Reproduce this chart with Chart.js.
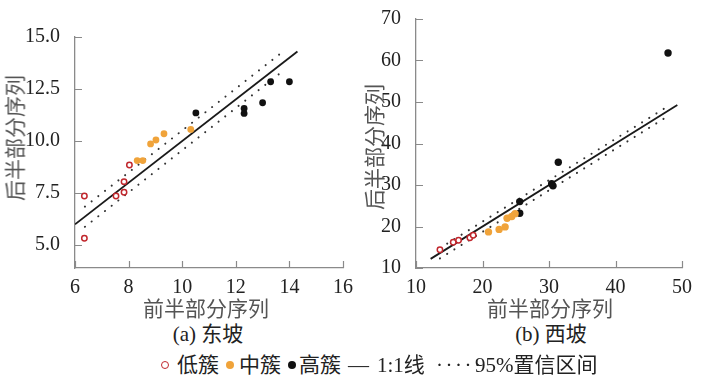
<!DOCTYPE html>
<html>
<head>
<meta charset="utf-8">
<script src="https://cdn.jsdelivr.net/npm/chart.js@4"></script>
<style>
  body { margin: 0; background: #fff; }
  #wrap { position: relative; width: 711px; height: 384px; overflow: hidden;
          font-family: "Liberation Serif", "Noto Sans CJK SC", serif; }
  canvas { position: absolute; top: 0; }
  .txt { position: absolute; white-space: nowrap; font-size: 21px; line-height: 1; }
  .ytitle { color: #555; transform: translate(-50%, -50%) rotate(-90deg); }
  .xtitle { color: #555; transform: translate(-50%, -50%); }
  .sub { color: #222; transform: translate(-50%, -50%); }
  .leg { color: #222; top: 365px; transform: translateY(-50%); }
  .mk { position: absolute; top: 361px; border-radius: 50%; box-sizing: border-box; }
</style>
</head>
<body>
<div id="wrap">
  <canvas id="east" width="355" height="300" style="left:0"></canvas>
  <canvas id="west" width="356" height="300" style="left:355px"></canvas>

  <div class="txt ytitle" style="left:16px; top:138px">后半部分序列</div>
  <div class="txt ytitle" style="left:375px; top:147px">后半部分序列</div>
  <div class="txt xtitle" style="left:206px; top:309px">前半部分序列</div>
  <div class="txt xtitle" style="left:550px; top:309px">前半部分序列</div>
  <div class="txt sub" style="left:208px; top:334px">(a) 东坡</div>
  <div class="txt sub" style="left:551px; top:334px">(b) 西坡</div>

  <span class="mk" style="left:161px;width:8px;height:8px;border:1.6px solid #c1272d"></span>
  <div class="txt leg" style="left:177px">低簇</div>
  <span class="mk" style="left:226px;width:8px;height:8px;background:#f0a33a"></span>
  <div class="txt leg" style="left:239px">中簇</div>
  <span class="mk" style="left:288px;width:8px;height:8px;background:#111"></span>
  <div class="txt leg" style="left:299px">高簇</div>
  <div class="txt leg" style="left:348px">—</div>
  <div class="txt leg" style="left:377px">1:1线</div>
  <div class="txt leg" style="left:436px; letter-spacing:2.5px">·····</div>
  <div class="txt leg" style="left:475px">95%置信区间</div>
</div>

<script>
// 东坡 (a)
let eastLowX = [6.35, 6.35, 7.53, 7.83, 7.83, 8.03];
let eastLowY = [7.36, 5.33, 7.36, 7.54, 8.05, 8.85];
let eastMidX = [8.32, 8.53, 8.82, 9.02, 9.32, 10.32];
let eastMidY = [9.06, 9.06, 9.86, 10.05, 10.35, 10.56];
let eastHighX = [10.51, 12.31, 12.31, 13.0, 13.3, 14.0];
let eastHighY = [11.35, 11.57, 11.33, 11.84, 12.85, 12.85];
let eastLineX = [6, 14.3];
let eastCiX = [6.37, 13.84];
let eastCiUp = [6.85, 14.38];
let eastCiLow = [5.88, 13.45];
let eastXTicks = [6, 8, 10, 12, 14, 16];
let eastYTicks = [5, 7.5, 10, 12.5, 15];

// 西坡 (b)
let westLowX = [13.6, 15.6, 16.4, 18.1, 18.6];
let westLowY = [14.4, 16.2, 16.7, 17.3, 17.9];
let westMidX = [20.9, 22.5, 23.4, 23.7, 24.4, 24.9];
let westMidY = [18.7, 19.3, 19.9, 22.0, 22.4, 23.1];
let westHighX = [25.6, 25.6, 30.4, 30.6, 31.4, 47.9];
let westHighY = [26.0, 23.2, 30.3, 29.8, 35.5, 61.8];
let westLineX = [12.2, 49.3];
let westCiX = [13.6, 47.4];
let westCiUp = [14.8, 48.5];
let westCiLow = [12.3, 46.1];
let westXTicks = [10, 20, 30, 40, 50];
let westYTicks = [10, 20, 30, 40, 50, 60, 70];

let axisColor = '#8a8a8a';
let red = '#c1272d', orange = '#f0a33a', black = '#111';

let pts = (xs, ys) => xs.map((x, i) => ({ x: x, y: ys[i] }));

// ticks paa indersiden af akserne
let innerTicks = {
  id: 'innerTicks',
  afterDraw(chart) {
    let ctx = chart.ctx, a = chart.chartArea;
    let sx = chart.scales.x, sy = chart.scales.y;
    ctx.save();
    ctx.strokeStyle = axisColor;
    ctx.lineWidth = 1.2;
    ctx.beginPath();
    sx.ticks.forEach(t => {
      let p = Math.round(sx.getPixelForValue(t.value)) + 0.5;
      ctx.moveTo(p, a.bottom); ctx.lineTo(p, a.bottom - 7);
    });
    sy.ticks.forEach(t => {
      let p = Math.round(sy.getPixelForValue(t.value)) + 0.5;
      ctx.moveTo(a.left, p); ctx.lineTo(a.left + 7, p);
    });
    ctx.stroke();
    ctx.restore();
  }
};

function makeChart(el, d) {
  let tickFont = { family: 'Liberation Serif', size: 20 };
  return new Chart(el, {
    type: 'scatter',
    data: {
      datasets: [
        { data: pts(d.lowX, d.lowY), pointRadius: 2.7, pointBorderWidth: 1.5,
          pointBorderColor: red, pointBackgroundColor: '#fff', order: 0 },
        { data: pts(d.midX, d.midY), pointRadius: d.r, pointBorderWidth: 0,
          pointBackgroundColor: orange, order: 0 },
        { data: pts(d.highX, d.highY), pointRadius: d.r, pointBorderWidth: 0,
          pointBackgroundColor: black, order: 0 },
        { data: pts(d.lineX, d.lineX), showLine: true, pointRadius: 0,
          borderColor: '#1a1a1a', borderWidth: 1.8, order: 1 },
        { data: pts(d.ciX, d.ciUp), showLine: true, pointRadius: 0, borderColor: '#333',
          borderWidth: 2, borderDash: [0.1, 8.4], borderCapStyle: 'round', order: 2 },
        { data: pts(d.ciX, d.ciLow), showLine: true, pointRadius: 0, borderColor: '#333',
          borderWidth: 2, borderDash: [0.1, 8.4], borderCapStyle: 'round', order: 2 }
      ]
    },
    options: {
      responsive: false,
      animation: false,
      layout: { padding: d.pad },
      plugins: { legend: { display: false }, tooltip: { enabled: false } },
      scales: {
        x: {
          min: d.xMin, max: d.xMax,
          grid: { display: false },
          border: { display: true, color: axisColor, width: 1.3 },
          ticks: { color: '#222', font: tickFont, padding: 0, maxRotation: 0 },
          afterBuildTicks: s => { s.ticks = d.xTicks.map(v => ({ value: v })); },
          afterFit: s => { s.height = 32; }
        },
        y: {
          min: d.yMin, max: d.yMax,
          grid: { display: false },
          border: { display: true, color: axisColor, width: 1.3 },
          ticks: { color: '#222', font: tickFont, padding: 7, callback: d.fmt },
          afterBuildTicks: s => { s.ticks = d.yTicks.map(v => ({ value: v })); },
          afterFit: s => { s.width = d.yw; }
        }
      }
    },
    plugins: [innerTicks]
  });
}

makeChart(document.getElementById('east'), {
  lowX: eastLowX, lowY: eastLowY, midX: eastMidX, midY: eastMidY,
  highX: eastHighX, highY: eastHighY, lineX: eastLineX,
  ciX: eastCiX, ciUp: eastCiUp, ciLow: eastCiLow,
  xTicks: eastXTicks, yTicks: eastYTicks,
  xMin: 6, xMax: 16, yMin: 3.9, yMax: 15, r: 3.4,
  pad: { left: 0, right: 12, top: 37, bottom: 0 }, yw: 75,
  fmt: v => v.toFixed(1)
});

makeChart(document.getElementById('west'), {
  lowX: westLowX, lowY: westLowY, midX: westMidX, midY: westMidY,
  highX: westHighX, highY: westHighY, lineX: westLineX,
  ciX: westCiX, ciUp: westCiUp, ciLow: westCiLow,
  xTicks: westXTicks, yTicks: westYTicks,
  xMin: 10, xMax: 50, yMin: 10, yMax: 70, r: 3.7,
  pad: { left: 0, right: 29, top: 10, bottom: 0 }, yw: 61,
  fmt: v => v
});
</script>
</body>
</html>
